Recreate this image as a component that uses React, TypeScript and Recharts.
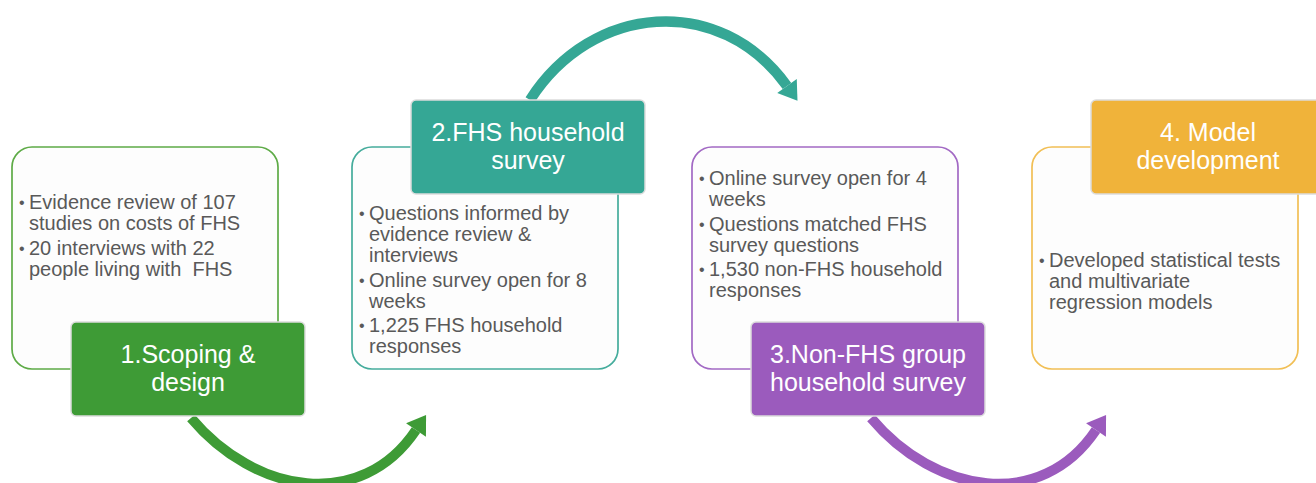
import React from 'react';
import { ScatterChart, Scatter, XAxis, YAxis } from 'recharts';

// step order along the process
const steps = [0, 1, 2, 3];

const stepTitles = [
    ['1.Scoping &', 'design'],
    ['2.FHS household', 'survey'],
    ['3.Non-FHS group', 'household survey'],
    ['4. Model', 'development'],
];

const stepBullets = [
    [
        ['Evidence review of 107', 'studies on costs of FHS'],
        ['20 interviews with 22', 'people living with  FHS'],
    ],
    [
        ['Questions informed by', 'evidence review &', 'interviews'],
        ['Online survey open for 8', 'weeks'],
        ['1,225 FHS household', 'responses'],
    ],
    [
        ['Online survey open for 4', 'weeks'],
        ['Questions matched FHS', 'survey questions'],
        ['1,530 non-FHS household', 'responses'],
    ],
    [['Developed statistical tests', 'and multivariate', 'regression models']],
];

// styling
const fillColors = ['#3e9b36', '#35a795', '#9b5bbd', '#f0b33a'];
const borderColors = ['#5eab47', '#45ac9c', '#a269c4', '#f1bf55'];
const titleBelow = [true, false, true, false];
const textStart = [209, 220, 185, 267];

const W = 1316;
const H = 483;
const FONT = '"Liberation Sans", Arial, sans-serif';

const data = steps.map((s) => ({ x: s, y: 0, step: s }));

function arrowHead(ex: number, ey: number, dx: number, dy: number, color: string) {
    const len = Math.hypot(dx, dy);
    const ux = dx / len;
    const uy = dy / len;
    const nx = -uy;
    const ny = ux;
    const L = 18;
    const B = 12;
    const pts = [
        [ex + ux * L, ey + uy * L],
        [ex + nx * B, ey + ny * B],
        [ex - nx * B, ey - ny * B],
    ];
    return <polygon points={pts.map((p) => p.join(',')).join(' ')} fill={color} />;
}

function StepShape(props: any) {
    const { cx, cy, payload } = props;
    const i: number = payload.step;
    const color = fillColors[i];
    const bodyX = cx - 132.5;
    const bodyY = cy + 147;
    const titleX = bodyX + 59;
    const titleY = cy + (titleBelow[i] ? 322 : 100);

    // bullet lines
    const lines: any[] = [];
    let y = cy + textStart[i];
    stepBullets[i].forEach((b, bi) => {
        if (bi > 0) y += 3.5;
        b.forEach((ln, li) => {
            if (li === 0) {
                lines.push(
                    <text key={`b${bi}`} x={bodyX + 7} y={y - 1} fontSize={16} fill="#595959" fontFamily={FONT}>
                        •
                    </text>
                );
            }
            lines.push(
                <text
                    key={`t${bi}-${li}`}
                    x={bodyX + 17}
                    y={y}
                    fontSize={20}
                    fill="#595959"
                    fontFamily={FONT}
                    style={{ whiteSpace: 'pre' }}
                >
                    {ln}
                </text>
            );
            y += 21;
        });
    });

    // connector arrow to the next step
    let arrow = null;
    if (i < steps.length - 1) {
        if (titleBelow[i]) {
            const sx = cx + 46.5, sy = cy + 418;
            const ex = cx + 271.5, ey = cy + 430;
            arrow = (
                <g>
                    <path
                        d={`M ${sx} ${sy} C ${sx + 64} ${sy + 76} ${ex - 55} ${ey + 82} ${ex} ${ey}`}
                        stroke={color}
                        strokeWidth={10}
                        fill="none"
                    />
                    {arrowHead(ex, ey, 0.56, -0.83, color)}
                </g>
            );
        } else {
            const sx = cx + 45.5, sy = cy + 100;
            const ex = cx + 302.5, ey = cy + 86;
            arrow = (
                <g>
                    <path
                        d={`M ${sx} ${sy} C ${sx + 62} ${sy - 97} ${ex - 67} ${ey - 93} ${ex} ${ey}`}
                        stroke={color}
                        strokeWidth={10.5}
                        fill="none"
                    />
                    {arrowHead(ex, ey, 0.58, 0.81, color)}
                </g>
            );
        }
    }

    return (
        <g>
            {arrow}
            <rect
                x={bodyX}
                y={bodyY}
                width={266}
                height={222}
                rx={20}
                fill="#fdfdfd"
                stroke={borderColors[i]}
                strokeWidth={1.7}
            />
            {lines}
            <rect
                x={titleX}
                y={titleY}
                width={234}
                height={94}
                rx={5}
                fill={color}
                stroke="#dcdcdc"
                strokeWidth={1.5}
            />
            {stepTitles[i].map((t, ti) => (
                <text
                    key={ti}
                    x={titleX + 117}
                    y={titleY + 41 + ti * 28}
                    textAnchor="middle"
                    fontSize={25}
                    fill="#ffffff"
                    fontFamily={FONT}
                >
                    {t}
                </text>
            ))}
        </g>
    );
}

export default function App() {
    return (
        <div style={{ position: 'absolute', left: 0, top: 0, width: W, height: H, background: '#ffffff' }}>
            <ScatterChart width={W} height={H} margin={{ top: 0, right: 0, bottom: 0, left: 0 }}>
                <XAxis type="number" dataKey="x" domain={[-0.425, 3.4456]} allowDataOverflow hide />
                <YAxis type="number" dataKey="y" domain={[0, H]} reversed allowDataOverflow hide />
                <Scatter data={data} shape={StepShape} isAnimationActive={false} />
            </ScatterChart>
        </div>
    );
}
